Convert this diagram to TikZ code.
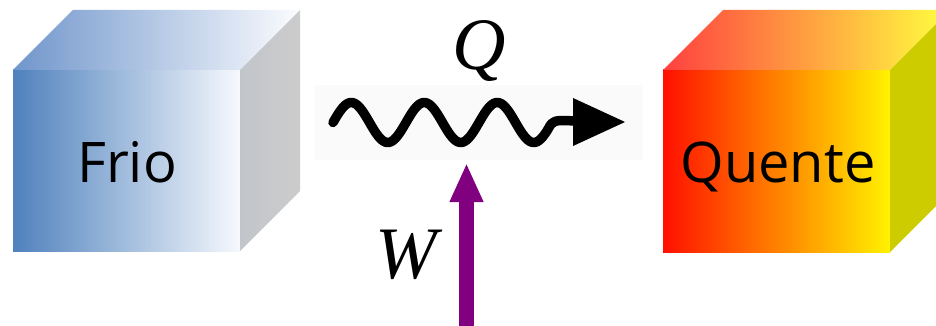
\documentclass[tikz,border=0pt]{standalone}
\usepackage{fontspec}
\setmainfont{Liberation Serif}
\newfontfamily\boxfont{Open Sans}
\usetikzlibrary{arrows.meta}
\definecolor{bluefront}{HTML}{4F81BD}
\definecolor{bluefrontr}{HTML}{F6F9FD}
\definecolor{bluetop}{HTML}{7096CB}
\definecolor{bluetopr}{HTML}{FBFCFF}
\definecolor{sidegrayl}{HTML}{C2C5CA}
\definecolor{sidegrayr}{HTML}{CCCCCC}
\definecolor{hotl}{HTML}{FF1000}
\definecolor{hotm}{HTML}{FF9600}
\definecolor{hotr}{HTML}{FFF200}
\definecolor{hottopl}{HTML}{FF4040}
\definecolor{hottopm}{HTML}{FFA040}
\definecolor{hottopr}{HTML}{FFFF40}
\definecolor{hotside}{HTML}{CCCC00}
\definecolor{workcol}{HTML}{800080}
\definecolor{wavebg}{HTML}{FAFAFA}
\tikzset{
  boxlabel/.style={font=\boxfont\fontsize{56}{58}\selectfont, inner sep=0pt, anchor=base},
  mathlabel/.style={font=\itshape\fontsize{74}{76}\selectfont, inner sep=0pt, anchor=base},
  wavestroke/.style={line width=9.5pt, line cap=round, line join=round, black},
  workarrow/.style={line width=15pt, workcol, -{Triangle[width=31pt,length=39pt]}}
}
\begin{document}
\begin{tikzpicture}[x=1pt,y=-1pt]
\useasboundingbox (0,0) rectangle (936,326);
\clip (0,0) rectangle (936,326);
% cold cube
\shade[left color=bluefront, right color=bluefrontr] (13,70) rectangle (240,251);
\shade[left color=bluetop, right color=bluetopr] (13,70) -- (73,10) -- (300,10) -- (240,70) -- cycle;
\shade[left color=sidegrayl, right color=sidegrayr] (240,70) -- (300,10) -- (300,191) -- (240,251) -- cycle;
\node[boxlabel] (frio) at (127,182) {Frio};
% hot cube
\shade[left color=hotl, middle color=hotm, right color=hotr] (663,70) rectangle (890,252);
\shade[left color=hottopl, middle color=hottopm, right color=hottopr] (663,70) -- (723,10) -- (950,10) -- (890,70) -- cycle;
\fill[hotside] (890,70) -- (950,10) -- (950,192) -- (890,252) -- cycle;
\node[boxlabel] (quente) at (778,182) {Quente};
% heat flow
\fill[wavebg] (315,85) rectangle (643,160);
\coordinate (qbase) at (576,121);
\coordinate (qtop) at (573,98);
\coordinate (qtip) at (625,122);
\coordinate (qbot) at (573,146);
\draw[wavestroke] plot[domain=333:548, samples=120] (\x, {122.5-20*sin(4.93151*(\x-333))}) .. controls (553,120) .. (qbase);
\fill (qtop) -- (qtip) -- (qbot) -- cycle;
\node[mathlabel] (Q) at (479,70) {Q};
% work
\coordinate (wbot) at (466.5,335);
\coordinate (wtop) at (466.5,163);
\draw[workarrow] (wbot) -- (wtop);
\node[mathlabel] (W) at (406,278) {W};
\end{tikzpicture}
\end{document}
